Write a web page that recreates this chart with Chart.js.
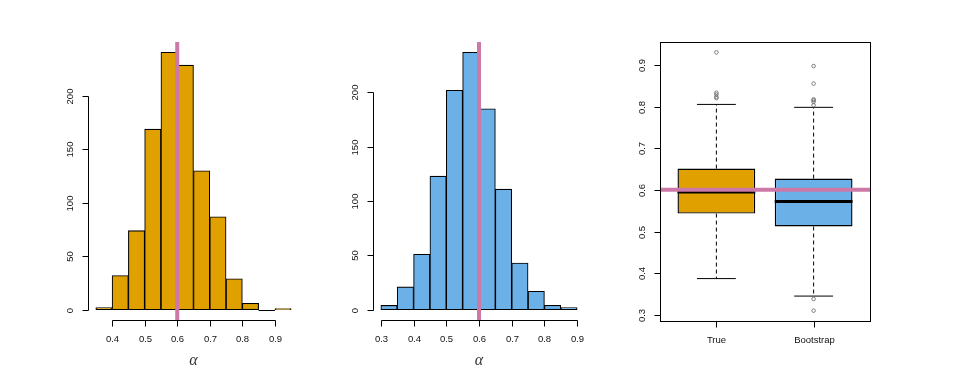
<!DOCTYPE html>
<html>
<head>
<meta charset="utf-8">
<script src="https://cdn.jsdelivr.net/npm/chart.js@4.4.0/dist/chart.umd.min.js"></script>
<style>
  html, body { margin: 0; padding: 0; background: #fff; }
  #painel { position: relative; width: 955px; height: 382px; overflow: hidden; }
  #painel canvas { position: absolute; top: 0; }
</style>
</head>
<body>
<div id="painel">
  <canvas id="histTrue" width="318" height="382" style="left:0px"></canvas>
  <canvas id="histBoot" width="319" height="382" style="left:318px"></canvas>
  <canvas id="caixas" width="318" height="382" style="left:637px"></canvas>
</div>
<script>
// valores
const alfa = 0.6;

const bordasTrue = [0.35, 0.40, 0.45, 0.50, 0.55, 0.60, 0.65, 0.70, 0.75, 0.80, 0.85, 0.90, 0.95];
const contagensTrue = [2, 32, 74, 169, 241, 229, 130, 87, 29, 6, 0, 1];
const ticksXTrue = [0.4, 0.5, 0.6, 0.7, 0.8, 0.9];

const bordasBoot = [0.30, 0.35, 0.40, 0.45, 0.50, 0.55, 0.60, 0.65, 0.70, 0.75, 0.80, 0.85, 0.90];
const contagensBoot = [4, 21, 51, 123, 202, 237, 185, 111, 43, 17, 4, 2];
const ticksXBoot = [0.3, 0.4, 0.5, 0.6, 0.7, 0.8, 0.9];

const ticksYHist = [0, 50, 100, 150, 200];

const nomesCaixas = ['True', 'Bootstrap'];
const bigodeInf = [0.387, 0.345];
const quartil1 = [0.543, 0.512];
const medianas = [0.595, 0.572];
const quartil3 = [0.651, 0.627];
const bigodeSup = [0.805, 0.798];
const outliersTrue = [0.930, 0.833, 0.829, 0.823, 0.820];
const outliersBoot = [0.897, 0.855, 0.817, 0.815, 0.811, 0.803, 0.338, 0.310];
const ticksYCaixa = [0.3, 0.4, 0.5, 0.6, 0.7, 0.8, 0.9];

const laranja = '#E0A000';
const azul = '#6BB1E8';
const rosa = '#CC79A7';
const fonte = '"Liberation Sans", Arial, sans-serif';

// eixos no estilo do R, desenhados com as escalas do proprio Chart.js
const eixosR = {
  id: 'eixosR',
  afterDraw(chart, args, o) {
    const ctx = chart.ctx, a = chart.chartArea;
    const sx = chart.scales.x, sy = chart.scales.y;
    const r = v => Math.round(v) + 0.5;
    ctx.save();
    ctx.strokeStyle = '#000';
    ctx.fillStyle = '#111';
    ctx.lineWidth = 1;
    ctx.font = '9.5px ' + fonte;

    if (o.moldura) ctx.strokeRect(r(a.left), r(a.top), Math.round(a.right - a.left), Math.round(a.bottom - a.top));

    // eixo x
    const yb = r(a.bottom);
    const px = o.xTicks.map(v => r(sx.getPixelForValue(v)));
    ctx.beginPath();
    ctx.moveTo(px[0], yb); ctx.lineTo(px[px.length - 1], yb);
    px.forEach(p => { ctx.moveTo(p, yb); ctx.lineTo(p, yb + 6); });
    ctx.stroke();
    ctx.textAlign = 'center';
    ctx.textBaseline = 'middle';
    o.xLabels.forEach((t, i) => ctx.fillText(t, px[i], a.bottom + 19));

    // eixo y
    const xl = r(a.left);
    const py = o.yTicks.map(v => r(sy.getPixelForValue(v)));
    ctx.beginPath();
    ctx.moveTo(xl, py[0]); ctx.lineTo(xl, py[py.length - 1]);
    py.forEach(p => { ctx.moveTo(xl, p); ctx.lineTo(xl - 6, p); });
    ctx.stroke();
    o.yLabels.forEach((t, i) => {
      ctx.save();
      ctx.translate(a.left - 17.5, py[i]);
      ctx.rotate(-Math.PI / 2);
      ctx.fillText(t, 0, 0);
      ctx.restore();
    });

    // barras de altura zero viram um traco na base, como no hist() do R
    if (o.vazios) {
      const y0 = r(sy.getPixelForValue(0));
      ctx.beginPath();
      o.vazios.forEach(([x0, x1]) => { ctx.moveTo(sx.getPixelForValue(x0), y0); ctx.lineTo(sx.getPixelForValue(x1), y0); });
      ctx.stroke();
    }

    // titulo alfa
    ctx.fillStyle = '#333';
    ctx.font = 'italic 16px "Liberation Serif", serif';
    if (o.alfaX) ctx.fillText('α', (a.left + a.right) / 2, 361);
    if (o.alfaY) {
      ctx.save();
      ctx.translate(a.left - 42, 190);
      ctx.rotate(-Math.PI / 2);
      ctx.fillText('α', 0, 0);
      ctx.restore();
    }
    ctx.restore();
  }
};

function histograma(id, bordas, contagens, cor, xTicks, padding) {
  const barras = contagens.map((c, i) => ({ x: (bordas[i] + bordas[i + 1]) / 2, y: c }));
  const vazios = [];
  contagens.forEach((c, i) => { if (c === 0) vazios.push([bordas[i], bordas[i + 1]]); });
  const xmin = bordas[0], xmax = bordas[bordas.length - 1];
  const ymax = Math.max(...contagens);
  const dx = (xmax - xmin) * 0.04, dy = ymax * 0.04;
  new Chart(document.getElementById(id), {
    type: 'bar',
    data: {
      datasets: [
        {
          type: 'line', order: 0,
          data: [{ x: alfa, y: -dy }, { x: alfa, y: ymax + dy }],
          borderColor: rosa, borderWidth: 4, pointRadius: 0
        },
        {
          type: 'bar', order: 1,
          data: barras,
          backgroundColor: cor, borderColor: '#000', borderWidth: 1.1,
          borderSkipped: false, barPercentage: 1, categoryPercentage: 1
        }
      ]
    },
    options: {
      responsive: false, animation: false, devicePixelRatio: 1,
      layout: { padding: padding },
      plugins: {
        legend: { display: false }, tooltip: { enabled: false },
        eixosR: {
          xTicks: xTicks, xLabels: xTicks.map(v => v.toFixed(1)),
          yTicks: ticksYHist, yLabels: ticksYHist.map(String),
          vazios: vazios, alfaX: true
        }
      },
      scales: {
        x: { type: 'linear', display: false, min: xmin - dx, max: xmax + dx, afterBuildTicks: s => { s.ticks = []; } },
        y: { type: 'linear', display: false, min: -dy, max: ymax + dy }
      }
    },
    plugins: [eixosR]
  });
}

histograma('histTrue', bordasTrue, contagensTrue, laranja, ticksXTrue, { left: 88, right: 19, top: 42, bottom: 62 });
histograma('histBoot', bordasBoot, contagensBoot, azul, ticksXBoot, { left: 55, right: 52, top: 42, bottom: 62 });

// boxplot
const todosValores = [...bigodeInf, ...bigodeSup, ...outliersTrue, ...outliersBoot];
const vmin = Math.min(...todosValores), vmax = Math.max(...todosValores);
const dv = (vmax - vmin) * 0.04;

const conjuntos = [];
conjuntos.push({
  type: 'line', order: 0,
  data: [{ x: 0.42, y: alfa }, { x: 2.58, y: alfa }],
  borderColor: rosa, borderWidth: 4, pointRadius: 0
});
conjuntos.push({
  type: 'scatter', order: 1,
  data: outliersTrue.map(v => ({ x: 1, y: v })).concat(outliersBoot.map(v => ({ x: 2, y: v }))),
  pointRadius: 1.8, pointBorderWidth: 0.8, pointBorderColor: '#666', pointBackgroundColor: 'rgba(0,0,0,0)'
});
nomesCaixas.forEach((n, i) => {
  const x = i + 1;
  conjuntos.push({
    type: 'line', order: 2,
    data: [{ x: x - 0.4, y: medianas[i] }, { x: x + 0.4, y: medianas[i] }],
    borderColor: '#000', borderWidth: 3, pointRadius: 0
  });
  [[quartil3[i], bigodeSup[i]], [quartil1[i], bigodeInf[i]]].forEach(([q, b]) => {
    conjuntos.push({
      type: 'line', order: 3,
      data: [{ x: x, y: q }, { x: x, y: b }],
      borderColor: '#000', borderWidth: 1, borderDash: [4, 3], pointRadius: 0
    });
    conjuntos.push({
      type: 'line', order: 3,
      data: [{ x: x - 0.2, y: b }, { x: x + 0.2, y: b }],
      borderColor: '#000', borderWidth: 1, pointRadius: 0
    });
  });
});
conjuntos.push({
  type: 'bar', order: 4,
  data: nomesCaixas.map((n, i) => ({ x: i + 1, y: [quartil1[i], quartil3[i]] })),
  backgroundColor: [laranja, azul], borderColor: '#000', borderWidth: 1.4,
  borderSkipped: false, barPercentage: 0.8, categoryPercentage: 1
});

new Chart(document.getElementById('caixas'), {
  type: 'bar',
  data: { datasets: conjuntos },
  options: {
    responsive: false, animation: false, devicePixelRatio: 1,
    layout: { padding: { left: 23, right: 85, top: 42, bottom: 61 } },
    plugins: {
      legend: { display: false }, tooltip: { enabled: false },
      eixosR: {
        moldura: true,
        xTicks: [1, 2], xLabels: nomesCaixas,
        yTicks: ticksYCaixa, yLabels: ticksYCaixa.map(v => v.toFixed(1)),
        alfaY: true
      }
    },
    scales: {
      x: { type: 'linear', display: false, min: 0.42, max: 2.58, afterBuildTicks: s => { s.ticks = []; } },
      y: { type: 'linear', display: false, min: vmin - dv, max: vmax + dv }
    }
  },
  plugins: [eixosR]
});
</script>
</body>
</html>
